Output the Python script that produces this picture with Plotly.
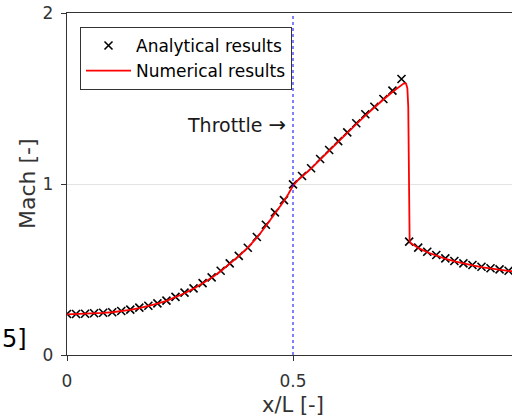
import plotly.graph_objects as go

# Analytical results (markers)
x_ana = [0.00, 0.02, 0.04, 0.06, 0.08, 0.10, 0.12, 0.14, 0.16, 0.18,
         0.20, 0.22, 0.24, 0.26, 0.28, 0.30, 0.32, 0.34, 0.36, 0.38,
         0.40, 0.42, 0.44, 0.46, 0.48, 0.50, 0.52, 0.54, 0.56, 0.58,
         0.60, 0.62, 0.64, 0.66, 0.68, 0.70, 0.72, 0.74,
         0.757, 0.777, 0.797, 0.817, 0.837, 0.857, 0.877, 0.897, 0.917,
         0.937, 0.957, 0.977, 0.997]
m_ana = [0.240, 0.240, 0.241, 0.244, 0.247, 0.250, 0.257, 0.265, 0.277, 0.288,
         0.302, 0.318, 0.340, 0.365, 0.390, 0.420, 0.454, 0.493, 0.536, 0.580,
         0.627, 0.690, 0.762, 0.834, 0.906, 0.998, 1.047, 1.092, 1.146, 1.199,
         1.251, 1.302, 1.355, 1.408, 1.452, 1.497, 1.546, 1.614,
         0.663, 0.628, 0.604, 0.585, 0.565, 0.550, 0.536, 0.526, 0.516,
         0.507, 0.501, 0.493, 0.488]

# Numerical results (line)
x_num = [0.00, 0.02, 0.04, 0.06, 0.08, 0.10, 0.12, 0.14, 0.16, 0.18,
         0.20, 0.22, 0.24, 0.26, 0.28, 0.30, 0.32, 0.34, 0.36, 0.38,
         0.40, 0.42, 0.44, 0.46, 0.48, 0.49, 0.50, 0.51, 0.52, 0.54, 0.56, 0.58,
         0.60, 0.62, 0.64, 0.66, 0.68, 0.70, 0.72, 0.74, 0.746, 0.750,
         0.753, 0.755, 0.756, 0.757, 0.758, 0.760, 0.770, 0.780, 0.800,
         0.820, 0.840, 0.860, 0.880, 0.900, 0.920, 0.940, 0.960, 0.980, 1.000]
m_num = [0.238, 0.239, 0.240, 0.243, 0.246, 0.250, 0.256, 0.264, 0.274, 0.286,
         0.300, 0.317, 0.337, 0.361, 0.388, 0.418, 0.452, 0.490, 0.532, 0.578,
         0.628, 0.686, 0.754, 0.826, 0.900, 0.943, 0.990, 1.020, 1.042, 1.090, 1.142, 1.195,
         1.246, 1.298, 1.350, 1.400, 1.448, 1.494, 1.538, 1.578, 1.590, 1.588,
         1.560, 1.450, 1.150, 0.800, 0.670, 0.655, 0.636, 0.622, 0.598,
         0.578, 0.560, 0.546, 0.533, 0.522, 0.512, 0.504, 0.497, 0.491, 0.486]

x_ticks = [0, 0.5, 1]
x_tick_text = ["0", "0.5", "1"]
y_ticks = [0, 1, 2]
y_tick_text = ["0", "1", "2"]

FONT = "DejaVu Sans"
W, H = 512, 420
ML, MR, MT, MB = 67, 0, 13, 65
PW, PH = W - ML - MR, H - MT - MB
px_per_x = 452.0
x_max = PW / px_per_x

fig = go.Figure()
fig.add_trace(go.Scatter(
    x=x_ana, y=m_ana, mode="markers", name="Analytical results",
    marker=dict(symbol="x-thin", size=8, color="black",
                line=dict(color="black", width=1.6)),
))
fig.add_trace(go.Scatter(
    x=x_num, y=m_num, mode="lines", name="Numerical results",
    line=dict(color="#ff0000", width=1.8),
))

fig.add_shape(type="line", x0=0.5, x1=0.5, xref="x", y0=0, y1=1, yref="paper",
              line=dict(color="blue", width=1, dash="dot"))

fig.add_annotation(x=0.489, y=1.345, xref="x", yref="y",
                   text="Throttle <span style='font-size:21px'>→</span>",
                   showarrow=False, xanchor="right", yanchor="middle",
                   font=dict(family=FONT, size=19, color="#1a1a1a"))
fig.add_annotation(x=(27 - ML) / PW, y=0.5, xref="paper", yref="paper",
                   text="Mach [-]", textangle=-90, showarrow=False,
                   xanchor="center", yanchor="middle",
                   font=dict(family=FONT, size=22, color="#333"))
fig.add_annotation(x=0.5, y=(355 - 405) / PH, xref="x", yref="paper",
                   text="x/L [-]", showarrow=False,
                   xanchor="center", yanchor="middle",
                   font=dict(family=FONT, size=21, color="#333"))
fig.add_annotation(x=(0 - ML) / PW, y=(355 - 339) / PH,
                   xref="paper", yref="paper", text="5]", showarrow=False,
                   xanchor="left", yanchor="middle",
                   font=dict(family=FONT, size=24, color="black"))

fig.update_layout(
    width=W, height=H,
    margin=dict(l=ML, r=MR, t=MT, b=MB, pad=0),
    paper_bgcolor="white", plot_bgcolor="white",
    font=dict(family=FONT, size=17, color="#333"),
    showlegend=True,
    legend=dict(x=(80 - ML) / PW, y=(355 - 27) / PH,
                xanchor="left", yanchor="top",
                bgcolor="white", bordercolor="#333", borderwidth=1,
                font=dict(family=FONT, size=17, color="black"),
                itemwidth=45, tracegroupgap=0),
    xaxis=dict(range=[0, x_max], tickvals=x_ticks, ticktext=x_tick_text,
               showgrid=False, zeroline=False, showline=True, mirror=True,
               linecolor="#333", linewidth=1.3, ticks="outside", ticklen=5,
               tickcolor="#333", ticklabelstandoff=5,
               tickfont=dict(family=FONT, size=17, color="#333")),
    yaxis=dict(range=[0, 2], tickvals=y_ticks, ticktext=y_tick_text,
               showgrid=True, gridcolor="#e3e3e3", gridwidth=1,
               zeroline=False, showline=True, mirror=False,
               linecolor="#333", linewidth=1.3, ticks="outside", ticklen=5,
               tickcolor="#333", ticklabelstandoff=4,
               tickfont=dict(family=FONT, size=17, color="#333")),
)

fig.write_html("out.html")
